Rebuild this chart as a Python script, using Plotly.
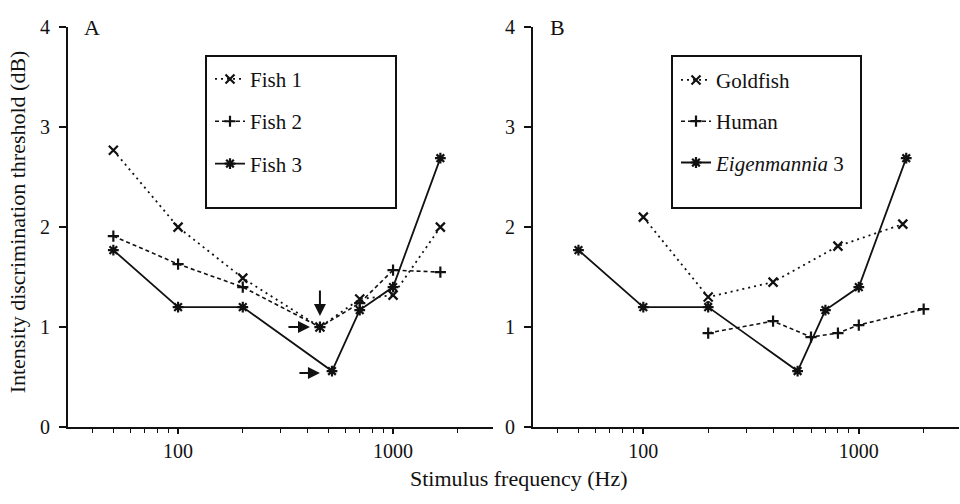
import numpy as np
import plotly.graph_objects as go

# ---------------- data ----------------
freq_fish1 = [50, 100, 200, 457, 700, 1000, 1660]
fish1 = [2.77, 2.0, 1.49, 1.0, 1.28, 1.32, 2.0]
freq_fish2 = [50, 100, 200, 457, 700, 1000, 1660]
fish2 = [1.91, 1.63, 1.40, 1.0, 1.24, 1.57, 1.55]
freq_fish3 = [50, 100, 200, 520, 700, 1000, 1660]
fish3 = [1.77, 1.2, 1.2, 0.56, 1.17, 1.4, 2.69]

freq_gold = [100, 200, 400, 800, 1600]
goldfish = [2.1, 1.3, 1.45, 1.81, 2.03]
freq_human = [200, 400, 600, 800, 1000, 2000]
human = [0.94, 1.06, 0.9, 0.94, 1.02, 1.18]
freq_eigen = [50, 100, 200, 520, 700, 1000, 1660]
eigen = [1.77, 1.2, 1.2, 0.56, 1.17, 1.4, 2.69]

y_ticks = [0, 1, 2, 3, 4]
x_major = [100, 1000]
x_minor = [40, 50, 60, 70, 80, 90, 200, 300, 400, 500, 600, 700, 800, 900, 2000]

FONT = "Liberation Serif"
BLACK = "#111111"

fig = go.Figure()

def add(x, y, name, dash, symbol, size, lw, xa, ya, legend):
    fig.add_trace(go.Scatter(
        x=x, y=y, name=name, mode="lines+markers",
        line=dict(color=BLACK, width=lw, dash=dash),
        marker=dict(symbol=symbol, size=size, color=BLACK,
                    line=dict(color=BLACK, width=2.2)),
        xaxis=xa, yaxis=ya, legend=legend, legendgroup=name))

add(freq_fish1, fish1, "Fish 1", "2px,4px", "x-thin-open", 9, 1.8, "x", "y", "legend")
add(freq_fish2, fish2, "Fish 2", "4px,3px", "cross-thin-open", 8, 1.6, "x", "y", "legend")
add(freq_fish3, fish3, "Fish 3", "solid", "asterisk-open", 9, 1.8, "x", "y", "legend")

add(freq_gold, goldfish, "Goldfish", "2px,4px", "x-thin-open", 9, 1.8, "x2", "y2", "legend2")
add(freq_human, human, "Human", "4px,3px", "cross-thin-open", 8, 1.6, "x2", "y2", "legend2")
add(freq_eigen, eigen, "<i>Eigenmannia</i> 3", "solid", "asterisk-open", 9, 1.8, "x2", "y2", "legend2")

fig.add_trace(go.Scatter(x=[200], y=[1.23], mode="markers", showlegend=False,
                         marker=dict(symbol="circle-open", size=5, color=BLACK,
                                     line=dict(width=1.2, color=BLACK)),
                         xaxis="x2", yaxis="y2"))

xr = [1.488, 3.465]
xdomA = [68 / 960, 493 / 960]
xdomB = [533 / 960, 959 / 960]
ydom = [(504 - 435) / 504, (504 - 17) / 504]

xcommon = dict(type="log", range=xr, showline=True, linecolor=BLACK, linewidth=2,
               ticks="outside", ticklen=5, tickwidth=1.5, tickcolor=BLACK,
               tickvals=x_major, ticktext=[str(v) for v in x_major],
               minor=dict(tickvals=x_minor, ticks="outside", ticklen=4,
                          tickwidth=1.2, tickcolor=BLACK, showgrid=False),
               showgrid=False, zeroline=False,
               tickfont=dict(family=FONT, size=20, color=BLACK),
               ticklabelstandoff=0)
ycommon = dict(range=[0, 4], showline=True, linecolor=BLACK, linewidth=2,
               ticks="outside", ticklen=7, tickwidth=1.5, tickcolor=BLACK,
               tickvals=y_ticks, showgrid=False, zeroline=False,
               tickfont=dict(family=FONT, size=20, color=BLACK),
               ticklabelstandoff=5, domain=ydom)

legfont = dict(family=FONT, size=21, color=BLACK)
fig.update_layout(
    width=960, height=504, margin=dict(l=0, r=0, t=0, b=0),
    paper_bgcolor="white", plot_bgcolor="white",
    xaxis=dict(domain=xdomA, anchor="y", **xcommon),
    yaxis=dict(anchor="x", **ycommon),
    xaxis2=dict(domain=xdomB, anchor="y2", **xcommon),
    yaxis2=dict(anchor="x2", **ycommon),
    legend=dict(x=210 / 960, y=(504 - 50) / 504, xanchor="left", yanchor="top",
                font=legfont, bgcolor="rgba(0,0,0,0)", borderwidth=0,
                tracegroupgap=12, itemwidth=30),
    legend2=dict(x=676 / 960, y=(504 - 51) / 504, xanchor="left", yanchor="top",
                 font=legfont, bgcolor="rgba(0,0,0,0)", borderwidth=0,
                 tracegroupgap=11, itemwidth=30),
    showlegend=True,
)

# legend boxes
for (x0, x1) in [(206, 396), (672, 861)]:
    fig.add_shape(type="rect", xref="paper", yref="paper",
                  x0=x0 / 960, x1=x1 / 960, y0=(504 - 206) / 504, y1=(504 - 47) / 504,
                  line=dict(color=BLACK, width=2), fillcolor="rgba(0,0,0,0)")

# arrows in panel A
arrows = [
    (457, 1.11, 457, 1.38),
    (411, 1.0, 321, 1.0),
    (457, 0.54, 361, 0.54),
]
for (xh, yh, xt, yt) in arrows:
    fig.add_annotation(x=np.log10(xh), y=yh, ax=np.log10(xt), ay=yt,
                       xref="x", yref="y", axref="x", ayref="y",
                       showarrow=True, arrowhead=2, arrowsize=1.2, arrowwidth=2,
                       arrowcolor=BLACK, text="")

# panel letters
fig.add_annotation(x=82 / 960, y=(504 - 17) / 504, xref="paper", yref="paper",
                   text="A", showarrow=False, xanchor="left", yanchor="middle",
                   font=dict(family=FONT, size=22, color=BLACK))
fig.add_annotation(x=548 / 960, y=(504 - 17) / 504, xref="paper", yref="paper",
                   text="B", showarrow=False, xanchor="left", yanchor="middle",
                   font=dict(family=FONT, size=22, color=BLACK))

# axis titles
fig.add_annotation(x=519 / 960, y=0, xref="paper", yref="paper",
                   text="Stimulus frequency (Hz)", showarrow=False,
                   xanchor="center", yanchor="bottom",
                   font=dict(family=FONT, size=22, color=BLACK))
fig.add_annotation(x=17 / 960, y=(504 - 221) / 504, xref="paper", yref="paper",
                   text="Intensity discrimination threshold (dB)", showarrow=False,
                   textangle=-90, xanchor="center", yanchor="middle",
                   font=dict(family=FONT, size=22, color=BLACK))

fig.write_html("out.html")
